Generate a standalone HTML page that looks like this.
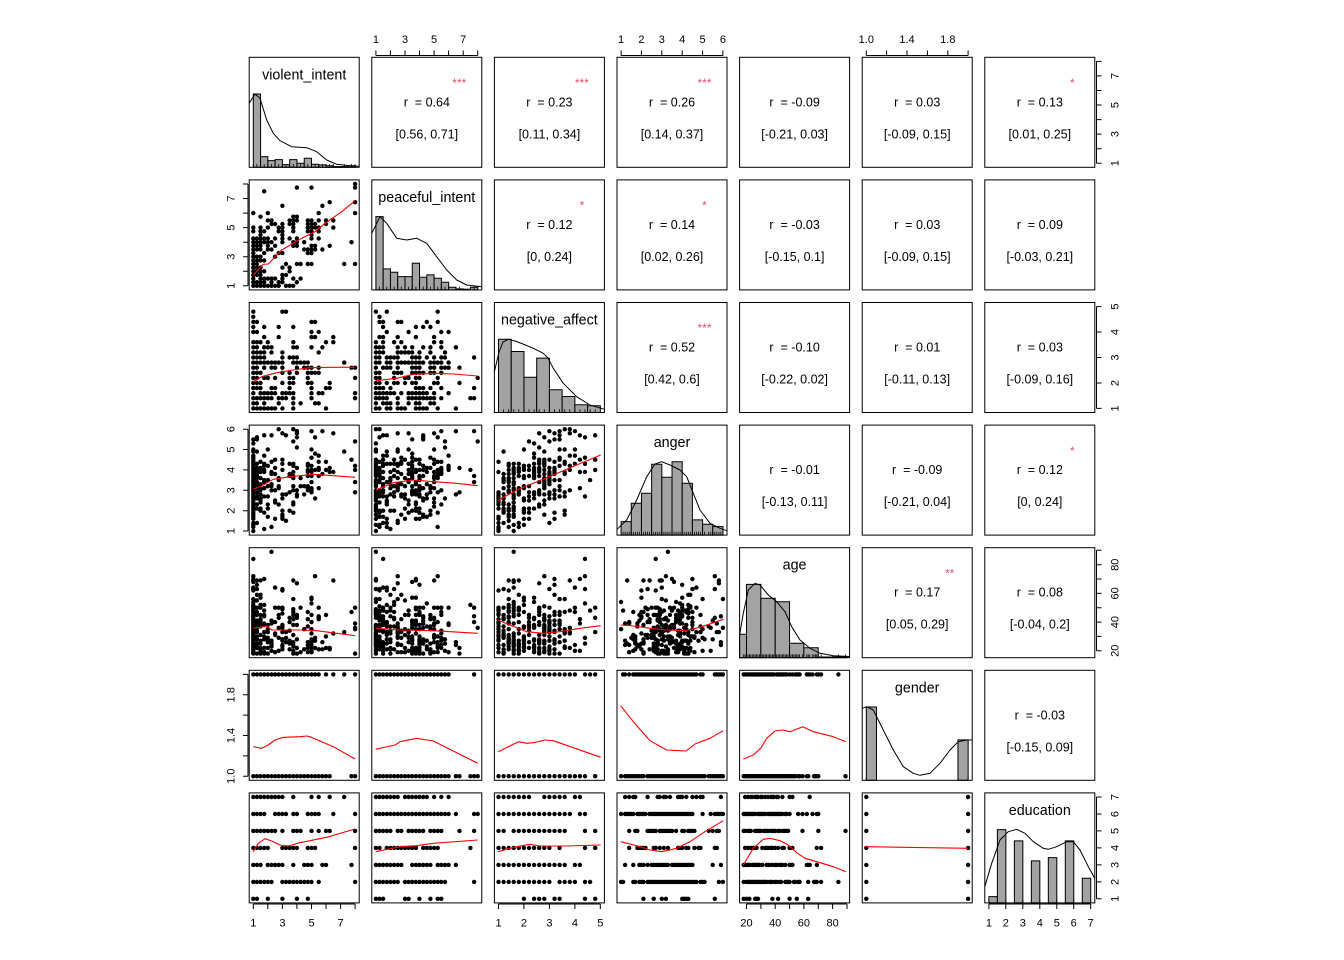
<!DOCTYPE html>
<html>
<head>
<meta charset="utf-8">
<style>
html,body{margin:0;padding:0;background:#fff;}
svg{display:block;font-family:"Liberation Sans",Arial,sans-serif;}
.box rect{fill:none;stroke:#000;stroke-width:1;}
.hist rect{fill:#a3a3a3;stroke:#000;stroke-width:1;vector-effect:non-scaling-stroke;}
.dens polyline{fill:none;stroke:#000;stroke-width:1;stroke-linejoin:round;}
.lo polyline{fill:none;stroke:#ff0000;stroke-width:1.1;stroke-linejoin:round;}
.ax path{fill:none;stroke:#000;stroke-width:1;}
.tl{font-size:11px;fill:#000;}
.ct{font-size:12.5px;fill:#000;}
.st{font-size:12px;fill:#DF536B;}
.nm{font-size:14.3px;fill:#000;}
</style>
</head>
<body>
<svg id="main" width="1344" height="960" viewBox="0 0 1344 960" xmlns="http://www.w3.org/2000/svg">
<rect x="0" y="0" width="1344" height="960" fill="#fff"/>

<!-- histograms -->
<g class="hist">
 <g transform="translate(253.3,167.3) scale(7.275,-1)">
  <rect x="0" y="0" width="1" height="73.3"/><rect x="1" y="0" width="1" height="10.7"/><rect x="2" y="0" width="1" height="6.7"/><rect x="3" y="0" width="1" height="7.7"/><rect x="4" y="0" width="1" height="2.7"/><rect x="5" y="0" width="1" height="7.7"/><rect x="6" y="0" width="1" height="4"/><rect x="7" y="0" width="1" height="9"/><rect x="8" y="0" width="1" height="3"/><rect x="9" y="0" width="1" height="2.4"/><rect x="10" y="0" width="1" height="1.5"/><rect x="11" y="0" width="1" height="0.7"/><rect x="12" y="0" width="1" height="0.7"/><rect x="13" y="0" width="1" height="1.5"/>
 </g>
 <g transform="translate(375.9,289.9) scale(7.275,-1)">
  <rect x="0" y="0" width="1" height="73.3"/><rect x="1" y="0" width="1" height="21"/><rect x="2" y="0" width="1" height="17.7"/><rect x="3" y="0" width="1" height="13.3"/><rect x="4" y="0" width="1" height="13.3"/><rect x="5" y="0" width="1" height="26.7"/><rect x="6" y="0" width="1" height="12.7"/><rect x="7" y="0" width="1" height="15"/><rect x="8" y="0" width="1" height="11.7"/><rect x="9" y="0" width="1" height="7.7"/><rect x="10" y="0" width="1" height="2.7"/><rect x="11" y="0" width="1" height="1"/><rect x="12" y="0" width="1" height="0.7"/><rect x="13" y="0" width="1" height="2.7"/>
 </g>
 <g transform="translate(498.5,412.5) scale(12.73,-1)">
  <rect x="0" y="0" width="1" height="73.3"/><rect x="1" y="0" width="1" height="61"/><rect x="2" y="0" width="1" height="35.3"/><rect x="3" y="0" width="1" height="54.4"/><rect x="4" y="0" width="1" height="22.7"/><rect x="5" y="0" width="1" height="16"/><rect x="6" y="0" width="1" height="7.7"/><rect x="7" y="0" width="1" height="6.7"/>
 </g>
 <g transform="translate(621.1,535.1) scale(10.185,-1)">
  <rect x="0" y="0" width="1" height="13.5"/><rect x="1" y="0" width="1" height="31.9"/><rect x="2" y="0" width="1" height="41.9"/><rect x="3" y="0" width="1" height="70.9"/><rect x="4" y="0" width="1" height="57.9"/><rect x="5" y="0" width="1" height="73.3"/><rect x="6" y="0" width="1" height="51.9"/><rect x="7" y="0" width="1" height="15.2"/><rect x="8" y="0" width="1" height="10.9"/><rect x="9" y="0" width="1" height="8.5"/>
 </g>
 <g transform="translate(746.5,657.7) scale(14.345,-1)">
  <rect x="-0.481" y="0" width="0.481" height="23.5"/><rect x="0" y="0" width="1" height="73.3"/><rect x="1" y="0" width="1" height="59.5"/><rect x="2" y="0" width="1" height="56"/><rect x="3" y="0" width="1" height="14.5"/><rect x="4" y="0" width="1" height="10"/><rect x="5" y="0" width="1" height="0.7"/><rect x="6" y="0" width="1" height="1"/>
 </g>
 <g transform="translate(866.3,780.3) scale(10.185,-1)">
  <rect x="0" y="0" width="1" height="73.3"/><rect x="9" y="0" width="1" height="40.4"/>
 </g>
 <g transform="translate(988.9,902.9) scale(8.4875,-1)">
  <rect x="0" y="0" width="1" height="6.3"/><rect x="1" y="0" width="1" height="73.3"/><rect x="3" y="0" width="1" height="62"/><rect x="5" y="0" width="1" height="42"/><rect x="7" y="0" width="1" height="45.3"/><rect x="9" y="0" width="1" height="62"/><rect x="11" y="0" width="1" height="24.7"/>
 </g>
</g>

<!-- density curves -->
<g class="dens">
 <polyline points="249.2,103.3 255,94 260,98.3 266.7,120 273.3,133.3 280,140.7 291.7,146.7 306.7,147.7 316.7,151.7 326.7,160 336.7,164.3 350,165.7 359.2,166.2"/>
 <polyline points="371.8,233.3 380,216.7 386.7,223.3 396.7,238.3 406.7,240 416.7,238.3 426.7,243.3 436.7,256.7 446.7,270 456.7,280 466.7,285 481.8,286.7"/>
 <polyline points="494.4,371.7 499,352 503,342 508.3,339.3 515,341 523,344 533.3,348.3 543.3,353.3 548,358 553.3,368.3 563.3,383.3 576.7,396.7 590,405 604.4,409.3"/>
 <polyline points="617,529.3 626.7,520 636.7,500 646.7,476.7 655,464 661.7,461.7 670,465 680,470 686.7,476.7 693.3,493.3 700,510 710,523.3 720,528.3 727,530.7"/>
 <polyline points="739.6,635 743.3,613.3 748.3,590 755,583.3 760,585 768.3,595 776.7,601.7 785,611.7 791.7,626.7 800,640 810,648.3 820,653.3 833.3,655.7 849.6,656.5"/>
 <polyline points="862.2,708.3 866.7,706.7 873.3,710 883.3,730 893.3,750 903.3,766.7 913.3,773.3 920,775.3 930,773.3 940,763.3 950,750 958.3,741.7 966.7,740 972.2,740"/>
 <polyline points="984.8,886.7 991.7,863.3 1000,840 1008.3,831.7 1016.7,829.3 1025,833.3 1033.3,841.7 1043.3,848.3 1048.3,849.3 1056.7,846.7 1066.7,841.7 1073.3,841.7 1080,850 1088.3,866.7 1094.8,878.3"/>
</g>

<!-- points and rug (generated) -->
<g id="pts" fill="#000"></g>
<g id="rug" stroke="#000" stroke-width="0.8"></g>

<!-- loess lines -->
<g class="lo">
 <polyline points="253.3,275 263.3,264.3 268.3,264 281.7,250 301.7,238.3 315,231.7 325,223.3 341.7,211.7 355,200.7"/>
 <polyline points="253.3,381.7 261.7,376.7 276.7,372.7 293.3,370 310,367.7 333.3,367.3 355,367.3"/>
 <polyline points="375.7,380.7 396.7,378.3 413.3,374.3 433.3,373.3 453.3,374 477.7,376"/>
 <polyline points="253.3,489.3 263.3,485 273.3,479.3 290,476.7 313.3,474.3 333.3,475.7 355,477.3"/>
 <polyline points="375.7,490 393.3,482.7 413.3,480 433.3,481.7 456.7,483.3 477.7,485.7"/>
 <polyline points="497.7,500.7 516.7,490 533.3,483.3 553.3,475 576.7,465 600.7,455"/>
 <polyline points="253.3,628.3 263.3,626.7 267,626 271.7,630 300,630 316.7,630.7 355,635.7"/>
 <polyline points="375.7,628.3 400,630 433.3,630.7 477.7,633.3"/>
 <polyline points="497.7,620 510,625 526.7,631.7 543.3,633.3 560,631.7 580,628.3 600.7,625.7"/>
 <polyline points="620.7,625 633.3,626 650,628.3 666.7,630 685,630.7 700,627.3 723.3,619.3"/>
 <polyline points="253.3,746.7 261.7,748.3 268.3,745 275,740 283.3,737.3 300,736.7 306.7,736 310,736.7 333.3,746.7 355,759"/>
 <polyline points="375.7,749.3 395,745 400,741.7 416.7,738.3 433.3,741 477.7,763.3"/>
 <polyline points="498.3,751.7 518.3,741.7 526.7,743.3 533.3,742.7 545,740 553.3,740.7 600.7,757.3"/>
 <polyline points="620.7,705.7 633.3,721.7 650,740.7 666.7,750 680,750.7 686,751 695,744 710,738.3 723.3,730.7"/>
 <polyline points="743.3,759 753.3,755 760.7,748.3 766.7,738.3 775,731 782.7,730 790,731.7 802.7,726.7 813.3,731.7 833.3,736.7 846,741.7"/>
 <polyline points="253.3,851.7 258.3,843.3 265,838.7 271.7,841 280,845 288.3,846 300,842.7 326.7,837.3 355,829"/>
 <polyline points="375.7,851.7 400,846.7 416.7,845.7 433.3,843.3 477.7,840"/>
 <polyline points="497.7,851.7 516.7,846.7 530,844.3 540,846 566.7,846 600.7,845"/>
 <polyline points="620.7,841.7 636.7,845.7 650,850 661.7,851.7 676.7,848.3 690,841.7 703.3,832.7 723.3,820.7"/>
 <polyline points="743.3,865 753.3,848.3 763.3,839.3 770,838.3 780,840.7 788.3,845 796.7,852.7 805,858.3 816.7,861.7 833.3,866.7 846,871.7"/>
 <polyline points="865.7,846.7 968,848.3"/>
</g>

<!-- panel boxes -->
<g class="box">
 <g transform="translate(0,57.3)"><rect x="249.2" y="0" width="110" height="110"/><rect x="371.8" y="0" width="110" height="110"/><rect x="494.4" y="0" width="110" height="110"/><rect x="617" y="0" width="110" height="110"/><rect x="739.6" y="0" width="110" height="110"/><rect x="862.2" y="0" width="110" height="110"/><rect x="984.8" y="0" width="110" height="110"/></g>
 <g transform="translate(0,179.9)"><rect x="249.2" y="0" width="110" height="110"/><rect x="371.8" y="0" width="110" height="110"/><rect x="494.4" y="0" width="110" height="110"/><rect x="617" y="0" width="110" height="110"/><rect x="739.6" y="0" width="110" height="110"/><rect x="862.2" y="0" width="110" height="110"/><rect x="984.8" y="0" width="110" height="110"/></g>
 <g transform="translate(0,302.5)"><rect x="249.2" y="0" width="110" height="110"/><rect x="371.8" y="0" width="110" height="110"/><rect x="494.4" y="0" width="110" height="110"/><rect x="617" y="0" width="110" height="110"/><rect x="739.6" y="0" width="110" height="110"/><rect x="862.2" y="0" width="110" height="110"/><rect x="984.8" y="0" width="110" height="110"/></g>
 <g transform="translate(0,425.1)"><rect x="249.2" y="0" width="110" height="110"/><rect x="371.8" y="0" width="110" height="110"/><rect x="494.4" y="0" width="110" height="110"/><rect x="617" y="0" width="110" height="110"/><rect x="739.6" y="0" width="110" height="110"/><rect x="862.2" y="0" width="110" height="110"/><rect x="984.8" y="0" width="110" height="110"/></g>
 <g transform="translate(0,547.7)"><rect x="249.2" y="0" width="110" height="110"/><rect x="371.8" y="0" width="110" height="110"/><rect x="494.4" y="0" width="110" height="110"/><rect x="617" y="0" width="110" height="110"/><rect x="739.6" y="0" width="110" height="110"/><rect x="862.2" y="0" width="110" height="110"/><rect x="984.8" y="0" width="110" height="110"/></g>
 <g transform="translate(0,670.3)"><rect x="249.2" y="0" width="110" height="110"/><rect x="371.8" y="0" width="110" height="110"/><rect x="494.4" y="0" width="110" height="110"/><rect x="617" y="0" width="110" height="110"/><rect x="739.6" y="0" width="110" height="110"/><rect x="862.2" y="0" width="110" height="110"/><rect x="984.8" y="0" width="110" height="110"/></g>
 <g transform="translate(0,792.9)"><rect x="249.2" y="0" width="110" height="110"/><rect x="371.8" y="0" width="110" height="110"/><rect x="494.4" y="0" width="110" height="110"/><rect x="617" y="0" width="110" height="110"/><rect x="739.6" y="0" width="110" height="110"/><rect x="862.2" y="0" width="110" height="110"/><rect x="984.8" y="0" width="110" height="110"/></g>
</g>

<!-- axes -->
<g class="ax">
 <path d="M375.9,55.5H477.7M375.9,55.5V50.5M390.4,55.5V50.5M405,55.5V50.5M419.5,55.5V50.5M434.1,55.5V50.5M448.6,55.5V50.5M463.2,55.5V50.5M477.7,55.5V50.5"/>
 <path d="M621.1,55.5H722.9M621.1,55.5V50.5M641.4,55.5V50.5M661.8,55.5V50.5M682.2,55.5V50.5M702.6,55.5V50.5M722.9,55.5V50.5"/>
 <path d="M866.3,55.5H968.1M866.3,55.5V50.5M886.6,55.5V50.5M907,55.5V50.5M927.4,55.5V50.5M947.8,55.5V50.5M968.1,55.5V50.5"/>
 <path d="M253.3,904H355.1M253.3,904V909M267.8,904V909M282.4,904V909M296.9,904V909M311.5,904V909M326,904V909M340.6,904V909M355.1,904V909"/>
 <path d="M498.5,904H600.3M498.5,904V909M523.9,904V909M549.4,904V909M574.9,904V909M600.3,904V909"/>
 <path d="M746.5,904H847M746.5,904V909M760.9,904V909M775.2,904V909M789.6,904V909M803.9,904V909M818.3,904V909M832.6,904V909M847,904V909"/>
 <path d="M988.9,904H1090.7M988.9,904V909M1005.8,904V909M1022.8,904V909M1039.8,904V909M1056.8,904V909M1073.7,904V909M1090.7,904V909"/>
 <path d="M248,285.8V184M248,285.8H243M248,271.3H243M248,256.7H243M248,242.2H243M248,227.6H243M248,213.1H243M248,198.5H243M248,184H243"/>
 <path d="M248,531V429.2M248,531H243M248,510.7H243M248,490.3H243M248,469.9H243M248,449.5H243M248,429.2H243"/>
 <path d="M248,776.2V674.4M248,776.2H243M248,755.9H243M248,735.5H243M248,715.1H243M248,694.8H243M248,674.4H243"/>
 <path d="M1096.5,163.2V61.4M1096.5,163.2H1101.5M1096.5,148.7H1101.5M1096.5,134.1H1101.5M1096.5,119.6H1101.5M1096.5,105H1101.5M1096.5,90.5H1101.5M1096.5,75.9H1101.5M1096.5,61.4H1101.5"/>
 <path d="M1096.5,408.4V306.6M1096.5,408.4H1101.5M1096.5,383H1101.5M1096.5,357.5H1101.5M1096.5,332H1101.5M1096.5,306.6H1101.5"/>
 <path d="M1096.5,650.8V550.3M1096.5,650.8H1101.5M1096.5,636.4H1101.5M1096.5,622.1H1101.5M1096.5,607.7H1101.5M1096.5,593.4H1101.5M1096.5,579H1101.5M1096.5,564.7H1101.5M1096.5,550.3H1101.5"/>
 <path d="M1096.5,898.8V797M1096.5,898.8H1101.5M1096.5,881.9H1101.5M1096.5,864.9H1101.5M1096.5,847.9H1101.5M1096.5,830.9H1101.5M1096.5,814H1101.5M1096.5,797H1101.5"/>
</g>

<!-- tick labels -->
<g class="tl" text-anchor="middle">
 <text x="375.9" y="42.9">1</text><text x="405" y="42.9">3</text><text x="434.1" y="42.9">5</text><text x="463.2" y="42.9">7</text>
 <text x="621.1" y="42.9">1</text><text x="641.4" y="42.9">2</text><text x="661.8" y="42.9">3</text><text x="682.2" y="42.9">4</text><text x="702.6" y="42.9">5</text><text x="722.9" y="42.9">6</text>
 <text x="866.3" y="42.9">1.0</text><text x="907" y="42.9">1.4</text><text x="947.8" y="42.9">1.8</text>
 <text x="253.3" y="926.5">1</text><text x="282.4" y="926.5">3</text><text x="311.5" y="926.5">5</text><text x="340.6" y="926.5">7</text>
 <text x="498.5" y="926.5">1</text><text x="523.9" y="926.5">2</text><text x="549.4" y="926.5">3</text><text x="574.9" y="926.5">4</text><text x="600.3" y="926.5">5</text>
 <text x="746.5" y="926.5">20</text><text x="775.2" y="926.5">40</text><text x="803.9" y="926.5">60</text><text x="832.6" y="926.5">80</text>
 <text x="988.9" y="926.5">1</text><text x="1005.8" y="926.5">2</text><text x="1022.8" y="926.5">3</text><text x="1039.8" y="926.5">4</text><text x="1056.8" y="926.5">5</text><text x="1073.7" y="926.5">6</text><text x="1090.7" y="926.5">7</text>

 <text transform="translate(234.3,285.8) rotate(-90)">1</text><text transform="translate(234.3,256.7) rotate(-90)">3</text><text transform="translate(234.3,227.6) rotate(-90)">5</text><text transform="translate(234.3,198.5) rotate(-90)">7</text>
 <text transform="translate(234.3,531) rotate(-90)">1</text><text transform="translate(234.3,510.7) rotate(-90)">2</text><text transform="translate(234.3,490.3) rotate(-90)">3</text><text transform="translate(234.3,469.9) rotate(-90)">4</text><text transform="translate(234.3,449.5) rotate(-90)">5</text><text transform="translate(234.3,429.2) rotate(-90)">6</text>
 <text transform="translate(234.3,776.2) rotate(-90)">1.0</text><text transform="translate(234.3,735.5) rotate(-90)">1.4</text><text transform="translate(234.3,694.8) rotate(-90)">1.8</text>

 <text transform="translate(1118.5,163.2) rotate(-90)">1</text><text transform="translate(1118.5,134.1) rotate(-90)">3</text><text transform="translate(1118.5,105) rotate(-90)">5</text><text transform="translate(1118.5,75.9) rotate(-90)">7</text>
 <text transform="translate(1118.5,408.4) rotate(-90)">1</text><text transform="translate(1118.5,383) rotate(-90)">2</text><text transform="translate(1118.5,357.5) rotate(-90)">3</text><text transform="translate(1118.5,332) rotate(-90)">4</text><text transform="translate(1118.5,306.6) rotate(-90)">5</text>
 <text transform="translate(1118.5,650.8) rotate(-90)">20</text><text transform="translate(1118.5,622.1) rotate(-90)">40</text><text transform="translate(1118.5,593.4) rotate(-90)">60</text><text transform="translate(1118.5,564.7) rotate(-90)">80</text>
 <text transform="translate(1118.5,898.8) rotate(-90)">1</text><text transform="translate(1118.5,881.9) rotate(-90)">2</text><text transform="translate(1118.5,864.9) rotate(-90)">3</text><text transform="translate(1118.5,847.9) rotate(-90)">4</text><text transform="translate(1118.5,830.9) rotate(-90)">5</text><text transform="translate(1118.5,814) rotate(-90)">6</text><text transform="translate(1118.5,797) rotate(-90)">7</text>
</g>

<!-- diagonal names -->
<g class="nm" text-anchor="middle">
 <text x="304.2" y="79.3">violent_intent</text>
 <text x="426.8" y="201.9">peaceful_intent</text>
 <text x="549.4" y="324.5">negative_affect</text>
 <text x="672" y="447.1">anger</text>
 <text x="794.6" y="569.7">age</text>
 <text x="917.2" y="692.3">gender</text>
 <text x="1039.8" y="814.9">education</text>
</g>

<!-- correlation text -->
<g class="ct" text-anchor="middle">
 <text x="426.8" y="106.3">r&#160; = 0.64</text><text x="426.8" y="138.3">[0.56, 0.71]</text>
 <text x="549.4" y="106.3">r&#160; = 0.23</text><text x="549.4" y="138.3">[0.11, 0.34]</text>
 <text x="672" y="106.3">r&#160; = 0.26</text><text x="672" y="138.3">[0.14, 0.37]</text>
 <text x="794.6" y="106.3">r&#160; = -0.09</text><text x="794.6" y="138.3">[-0.21, 0.03]</text>
 <text x="917.2" y="106.3">r&#160; = 0.03</text><text x="917.2" y="138.3">[-0.09, 0.15]</text>
 <text x="1039.8" y="106.3">r&#160; = 0.13</text><text x="1039.8" y="138.3">[0.01, 0.25]</text>

 <text x="549.4" y="228.9">r&#160; = 0.12</text><text x="549.4" y="260.9">[0, 0.24]</text>
 <text x="672" y="228.9">r&#160; = 0.14</text><text x="672" y="260.9">[0.02, 0.26]</text>
 <text x="794.6" y="228.9">r&#160; = -0.03</text><text x="794.6" y="260.9">[-0.15, 0.1]</text>
 <text x="917.2" y="228.9">r&#160; = 0.03</text><text x="917.2" y="260.9">[-0.09, 0.15]</text>
 <text x="1039.8" y="228.9">r&#160; = 0.09</text><text x="1039.8" y="260.9">[-0.03, 0.21]</text>

 <text x="672" y="351.5">r&#160; = 0.52</text><text x="672" y="383.5">[0.42, 0.6]</text>
 <text x="794.6" y="351.5">r&#160; = -0.10</text><text x="794.6" y="383.5">[-0.22, 0.02]</text>
 <text x="917.2" y="351.5">r&#160; = 0.01</text><text x="917.2" y="383.5">[-0.11, 0.13]</text>
 <text x="1039.8" y="351.5">r&#160; = 0.03</text><text x="1039.8" y="383.5">[-0.09, 0.16]</text>

 <text x="794.6" y="474.1">r&#160; = -0.01</text><text x="794.6" y="506.1">[-0.13, 0.11]</text>
 <text x="917.2" y="474.1">r&#160; = -0.09</text><text x="917.2" y="506.1">[-0.21, 0.04]</text>
 <text x="1039.8" y="474.1">r&#160; = 0.12</text><text x="1039.8" y="506.1">[0, 0.24]</text>

 <text x="917.2" y="596.7">r&#160; = 0.17</text><text x="917.2" y="628.7">[0.05, 0.29]</text>
 <text x="1039.8" y="596.7">r&#160; = 0.08</text><text x="1039.8" y="628.7">[-0.04, 0.2]</text>

 <text x="1039.8" y="719.3">r&#160; = -0.03</text><text x="1039.8" y="751.3">[-0.15, 0.09]</text>
</g>

<!-- significance stars -->
<g class="st" text-anchor="middle">
 <text x="459.3" y="87">***</text>
 <text x="581.9" y="87">***</text>
 <text x="704.5" y="87">***</text>
 <text x="1072.3" y="87">*</text>
 <text x="581.9" y="209.6">*</text>
 <text x="704.5" y="209.6">*</text>
 <text x="704.5" y="332.2">***</text>
 <text x="1072.3" y="454.8">*</text>
 <text x="949.7" y="577.4">**</text>
</g>
</svg>

<script>
(function(){
var CL=[249.2,371.8,494.4,617,739.6,862.2,984.8];
var RT=[57.3,179.9,302.5,425.1,547.7,670.3,792.9];
var LO=[0.72,0.72,0.84,0.8,15.16,0.96,0.76];
var PX=[14.55,14.55,25.46,20.37,1.4345,101.85,16.975];
function X(j,v){return CL[j]+(v-LO[j])*PX[j];}
function Y(j,v){return RT[j]+110-(v-LO[j])*PX[j];}
function M(a){return function(){a|=0;a=a+0x6D2B79F5|0;var t=Math.imul(a^a>>>15,1|a);t=t+Math.imul(t^t>>>7,61|t)^t;return((t^t>>>14)>>>0)/4294967296;};}
var rnd=M(20240611);
function g(){var u=rnd();if(u<1e-9)u=1e-9;var v=rnd();return Math.sqrt(-2*Math.log(u))*Math.cos(6.283185307*v);}
function Phi(z){var t=1/(1+0.2316419*Math.abs(z)),d=0.3989423*Math.exp(-z*z/2),p=d*t*(0.3193815+t*(-0.3565638+t*(1.781478+t*(-1.821256+t*1.330274))));return z>0?1-p:p;}
function mk(list){var s=0,c=[],v=[];for(var i=0;i<list.length;i++){s+=list[i][1];c.push(s);v.push(list[i][0]);}
 return function(u){u*=s;for(var i=0;i<c.length;i++){if(u<=c[i])return v[i];}return v[v.length-1];};}
function halfBins(H,sp){var L=[[1,H[0]*sp[0]],[1.25,H[0]*sp[1]],[1.5,H[0]*sp[2]]];
 for(var k=1;k<H.length;k++){L.push([1.25+0.5*k,H[k]/2]);L.push([1.5+0.5*k,H[k]/2]);}return L;}
function fineBins(H,step){var L=[];var n0=Math.round(0.5/step)+1;for(var i=0;i<n0;i++)L.push([1+i*step,H[0]/n0]);
 var n=Math.round(0.5/step);for(var k=1;k<H.length;k++){for(var i=1;i<=n;i++){L.push([Math.round((1+0.5*k+i*step)*100)/100,H[k]/n]);}}return L;}
var F=[];
F[0]=mk(halfBins([73.3,10.7,6.7,7.7,2.7,7.7,4,9,3,2.4,1.5,0.7,0.7,1.5],[0.7,0.15,0.15]));
F[1]=mk(halfBins([73.3,21,17.7,13.3,13.3,26.7,12.7,15,11.7,7.7,2.7,1,0.7,2.7],[0.55,0.25,0.2]));
var nb=[[1,1.2,1.4],[1.6,1.8,2],[2.2,2.4],[2.6,2.8,3],[3.2,3.4],[3.6,3.8,4],[4.2,4.4],[4.6,4.8,5]],nh=[73.3,61,35.3,54.4,22.7,16,7.7,6.7];
var L2=[];for(var i=0;i<nb.length;i++){for(var k=0;k<nb[i].length;k++)L2.push([nb[i][k],nh[i]/nb[i].length]);}
F[2]=mk(L2);
F[3]=mk(fineBins([13.5,31.9,41.9,70.9,57.9,73.3,51.9,15.2,10.9,8.5],0.1));
var L4=[];for(var a=18;a<=89;a++){var w;if(a<=20)w=23.5/3;else if(a<=30)w=7.33;else if(a<=40)w=5.95;else if(a<=50)w=5.6;else if(a<=60)w=1.45;else if(a<=70)w=1.0;else if(a<=80)w=0.07;else w=0.1;L4.push([a,w]);}
F[4]=mk(L4);
F[5]=mk([[1,73.3],[2,40.4]]);
F[6]=mk([[1,6.3],[2,73.3],[3,62],[4,42],[5,45.3],[6,62],[7,24.7]]);
var N=300,D=[];
for(var i=0;i<N;i++){
 var g1=g(),g2=g(),g3=g(),g4=g(),g5=g(),g6=g(),g7=g();
 var z=[g1,0.68*g1+0.73*g2,0.23*g1+0.97*g3,0.26*g1+0.44*g3+0.86*g4,g5,0.17*g5+0.985*g6,0.1*g1+0.995*g7];
 var row=[];for(var j=0;j<7;j++)row.push(F[j](Phi(z[j])));
 D.push(row);
}
D[0][4]=89;D[1][4]=84;D[2][4]=69;D[3][0]=8;D[3][1]=7.75;D[4][0]=8;D[4][1]=2.5;
var s=[];
for(var r=1;r<7;r++){for(var c=0;c<r;c++){var seen={};
 for(var i=0;i<N;i++){var x=X(c,D[i][c]).toFixed(1),y=Y(r,D[i][r]).toFixed(1),key=x+','+y;
  if(seen[key])continue;seen[key]=1;s.push('<circle cx="'+x+'" cy="'+y+'" r="2.2"/>');}}}
document.getElementById('pts').innerHTML=s.join('');
var rg=[];
for(var j=0;j<7;j++){var seen={};var b=RT[j]+110;
 for(var i=0;i<N;i++){var x=X(j,D[i][j]);if(x<CL[j]||x>CL[j]+110)continue;var k=x.toFixed(1);if(seen[k])continue;seen[k]=1;
  rg.push('<line x1="'+k+'" y1="'+b+'" x2="'+k+'" y2="'+(b-3.3).toFixed(1)+'"/>');}}
document.getElementById('rug').innerHTML=rg.join('');
})();
</script>
</body>
</html>
